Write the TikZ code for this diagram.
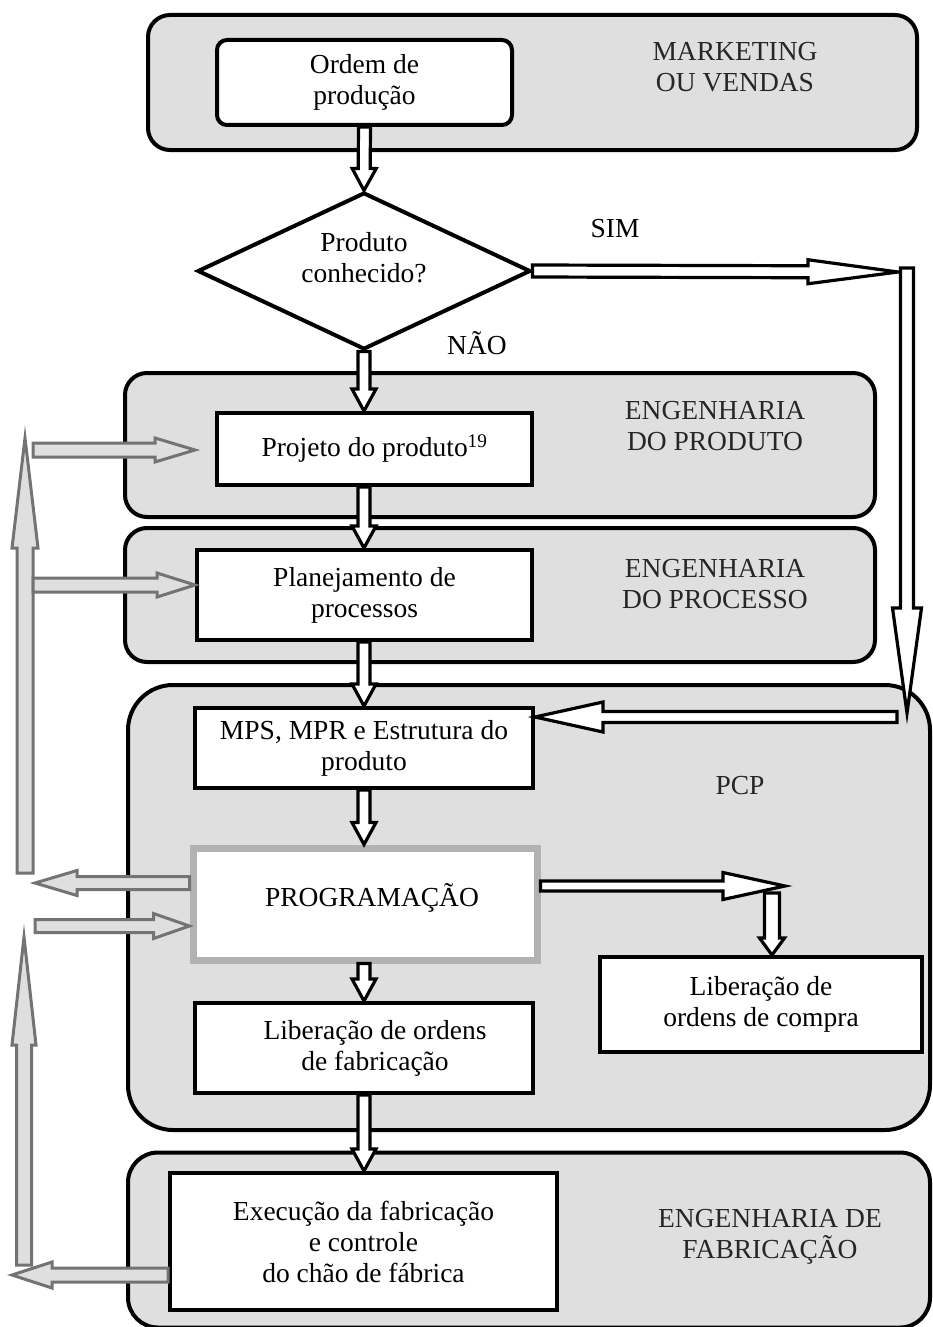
\documentclass[tikz,border=0pt]{standalone}
\usepackage{fontspec}
\setmainfont{Liberation Serif}
\usetikzlibrary{calc,shapes.geometric}

% block arrow: #1 style, #2 from, #3 to, #4 shaft half width, #5 head half width, #6 head length (pt)
\newcommand\barrow[6]{%
  \path[#1] let \p1=(#2), \p2=(#3),
    \n1={atan2(\y2-\y1,\x2-\x1)},
    \n2={veclen(\x2-\x1,\y2-\y1)-#6pt}
  in ($(\p1)+(\n1+90:#4pt)$)
  -- ($(\p1)+(\n1:\n2)+(\n1+90:#4pt)$)
  -- ($(\p1)+(\n1:\n2)+(\n1+90:#5pt)$)
  -- (\p2)
  -- ($(\p1)+(\n1:\n2)+(\n1-90:#5pt)$)
  -- ($(\p1)+(\n1:\n2)+(\n1-90:#4pt)$)
  -- ($(\p1)+(\n1-90:#4pt)$) -- cycle;}

\begin{document}
\begin{tikzpicture}[x=1pt,y=-1pt,
  group/.style={draw, line width=4pt, fill=gray!25, rounded corners=22pt, inner sep=0pt},
  box/.style={draw, line width=4pt, fill=white, align=center, inner sep=0pt,
    font=\fontsize{27.5}{31}\selectfont},
  txt/.style={align=center, inner sep=0pt, font=\fontsize{27.5}{31}\selectfont},
  lbl/.style={align=center, inner sep=0pt, font=\fontsize{27.5}{31}\selectfont, text=black!85},
  blackarrow/.style={draw=black, fill=white, line width=3.2pt, line join=miter},
  grayarrow/.style={draw=black!55, fill=gray!25, line width=3pt, line join=miter}]

\useasboundingbox (0,0) rectangle (932,1327);
\clip (0,0) rectangle (932,1327);

% ---- group regions
\node[group, minimum width=769pt, minimum height=135pt] (gmkt) at (532.5,82.5) {};
\node[group, minimum width=750pt, minimum height=144pt] (gprod) at (500,445) {};
\node[group, minimum width=750pt, minimum height=134pt] (gproc) at (500,595) {};
\node[group, rounded corners=45pt, minimum width=802pt, minimum height=445pt] (gpcp) at (529,907.5) {};
\node[group, rounded corners=30pt, minimum width=802pt, minimum height=175pt] (gfab) at (529,1240) {};

% ---- group labels
\node[lbl] (lmkt) at (735,67) {MARKETING\\OU VENDAS};
\node[lbl] (lprod) at (715,426) {ENGENHARIA\\DO PRODUTO};
\node[lbl] (lproc) at (715,584) {ENGENHARIA\\DO PROCESSO};
\node[lbl] (lpcp) at (740,786) {PCP};
\node[lbl] (lfab) at (770,1237) {ENGENHARIA DE\\FABRICAÇÃO};

% ---- boxes
\node[box, rounded corners=10pt, minimum width=295pt, minimum height=85pt] (ordem) at (364.5,82.5) {Ordem de\\produção};
\node[draw, diamond, line width=4pt, fill=white, inner sep=0pt, minimum width=333pt, minimum height=157pt] (dia) at (364,271) {};
\node[txt] (diatxt) at (364,258) {Produto\\conhecido?};
\node[box, minimum width=315pt, minimum height=72pt] (projeto) at (374.5,449) {Projeto do produto\textsuperscript{19}};
\node[box, minimum width=335pt, minimum height=90pt] (planej) at (364.5,595) {Planejamento de\\processos};
\node[box, minimum width=338pt, minimum height=80pt] (mps) at (364,748) {MPS, MPR e Estrutura do\\produto};
\node[box, draw=gray!60, line width=7pt, minimum width=344pt, minimum height=112pt] (prog) at (365,904) {};
\node[txt] (progtxt) at (372,898) {PROGRAMAÇÃO};
\node[box, minimum width=338pt, minimum height=90pt] (libfab) at (364,1048) {\hspace*{22pt}Liberação de ordens\\\hspace*{22pt}de fabricação};
\node[box, minimum width=322pt, minimum height=95pt] (libcom) at (761,1004.5) {Liberação de\\ordens de compra};
\node[box, minimum width=387pt, minimum height=137pt] (exec) at (363.5,1241.5) {Execução da fabricação\\e controle\\do chão de fábrica};

% ---- free labels
\node[txt] (sim) at (615,229) {SIM};
\node[txt] (nao) at (477,343) {NÃO};

% ---- helper coordinates
\coordinate (simtip) at (898,272);
\coordinate (rtop) at (907,268);
\coordinate (rtip) at (907,713);
\coordinate (rin) at (897,717);
\coordinate (pr) at (785,886);
\coordinate (pd) at (772,893);
\coordinate (u1s) at (25,873);
\coordinate (u1e) at (25,438);
\coordinate (u2s) at (24,1265);
\coordinate (u2e) at (24,937);
\coordinate (l1) at (33,450);
\coordinate (l2) at (33,585);
\coordinate (l3) at (35,883);
\coordinate (l4) at (35,926);
\coordinate (l5) at (12,1275);

% ---- black block arrows (main flow)
\barrow{blackarrow}{ordem.south}{dia.north}{6}{12}{22}
\barrow{blackarrow}{dia.south}{dia.south |- projeto.north}{6}{12}{22}
\barrow{blackarrow}{dia.south |- projeto.south}{dia.south |- planej.north}{6}{12}{22}
\barrow{blackarrow}{dia.south |- planej.south}{dia.south |- mps.north}{6}{12}{22}
\barrow{blackarrow}{dia.south |- mps.south}{dia.south |- prog.north}{6}{12}{22}
\barrow{blackarrow}{dia.south |- prog.south}{dia.south |- libfab.north}{6}{12}{22}
\barrow{blackarrow}{dia.south |- libfab.south}{dia.south |- exec.north}{6}{12}{22}
\barrow{blackarrow}{dia.east}{simtip}{6}{12}{90}
\barrow{blackarrow}{rtop}{rtip}{6.5}{14.5}{105}
\barrow{blackarrow}{rin}{mps.east |- rin}{5.5}{15}{68}
\barrow{blackarrow}{prog.east |- pr}{pr}{5}{13.5}{62}
\barrow{blackarrow}{pd}{pd |- libcom.north}{7.5}{12.5}{17}

% ---- gray feedback arrows
\barrow{grayarrow}{u1s}{u1e}{8}{13}{110}
\barrow{grayarrow}{u2s}{u2e}{7.5}{12}{108}
\barrow{grayarrow}{l1}{$(projeto.west |- l1)+(-20,0)$}{7}{12}{40}
\barrow{grayarrow}{l2}{planej.west |- l2}{7}{12}{38}
\barrow{grayarrow}{prog.west |- l3}{l3}{6.5}{12.5}{42}
\barrow{grayarrow}{l4}{prog.west |- l4}{6.5}{12.5}{36}
\barrow{grayarrow}{exec.west |- l5}{l5}{7}{13}{40}
\end{tikzpicture}
\end{document}
